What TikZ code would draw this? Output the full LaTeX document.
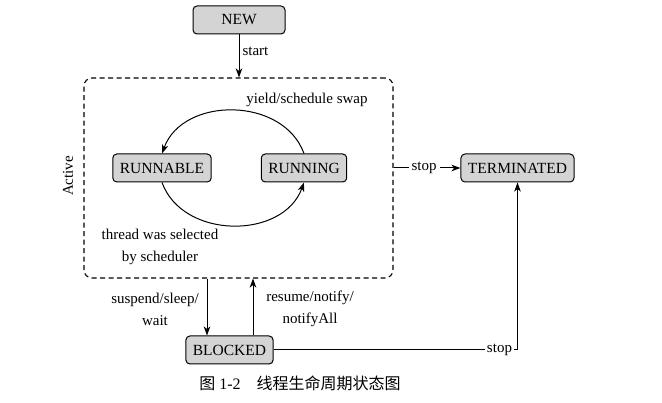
\documentclass[tikz,border=0pt]{standalone}
\usepackage{fontspec}
\setmainfont{Liberation Serif}
\newfontfamily\cjk{Noto Sans CJK SC}
\usetikzlibrary{arrows.meta}
\definecolor{boxgray}{RGB}{212,212,212}
\tikzset{
    state/.style={draw, rounded corners=4pt, fill=boxgray, line width=1pt, inner xsep=7pt, minimum height=28pt},
    trans/.style={-{Stealth[length=9pt,width=6.5pt,inset=2.5pt]}, line width=1pt},
    lbl/.style={font=\fontsize{15}{22}\selectfont, align=center, inner sep=1pt}
}
\begin{document}
\begin{tikzpicture}[x=1pt, y=-1pt, font=\fontsize{15.5}{19}\selectfont]
        \useasboundingbox (0,0) rectangle (662,403);

        % Active region
        \node[draw, dash pattern=on 5pt off 3.5pt, rounded corners=8pt, line width=1.1pt,
              minimum width=309pt, minimum height=200pt] (active) at (238.5,178) {};
        \node[lbl, rotate=90] (activelbl) at (68,176) {Active};

        % States
        \node[state, minimum width=92pt] (new) at (239,20) {NEW};
        \node[state] (runnable) at (162,168) {RUNNABLE};
        \node[state] (running) at (304,168) {RUNNING};
        \node[state] (terminated) at (517.5,168) {TERMINATED};
        \node[state] (blocked) at (229.5,350) {BLOCKED};

        % Start
        \draw[trans] (new) -- node[lbl, right=2pt, pos=0.4] (startlbl) {start} (new |- active.north);

        % Scheduling loop
        \draw[trans] (running.north) to[out=110, in=70, looseness=1.1] (runnable.north);
        \draw[trans] (runnable.south) to[out=-70, in=-110, looseness=1.1] (running.south);
        \node[lbl] (yieldlbl) at (307,100) {yield/schedule swap};
        \node[lbl] (selectlbl) at (160,247) {thread was selected\\by scheduler};

        % Stop from active
        \draw[trans] (active.east |- terminated) -- node[lbl, fill=white, inner sep=3pt, xshift=-3pt] (stoplbl) {stop} (terminated);

        % Blocking
        \coordinate (susp) at ([xshift=-22.5pt]blocked.north);
        \coordinate (resume) at ([xshift=23.5pt]blocked.north);
        \draw[trans] (susp |- active.south) -- (susp);
        \draw[trans] (resume) -- (resume |- active.south);
        \node[lbl] (susplbl) at (155,309) {suspend/sleep/\\wait};
        \node[lbl] (resumelbl) at (310,309) {resume/notify/\\notifyAll};

        % Stop from blocked
        \draw[trans] (blocked) -| node[lbl, fill=white, inner sep=2pt, anchor=east, pos=0.5, xshift=-3pt] (stoplbl2) {stop} (terminated);

        % Caption
        \node[font=\fontsize{16}{19}\selectfont] (caption) at (300,383) {{\cjk 图} 1-2\quad{\cjk 线程生命周期状态图}};
    \end{tikzpicture}
\end{document}
